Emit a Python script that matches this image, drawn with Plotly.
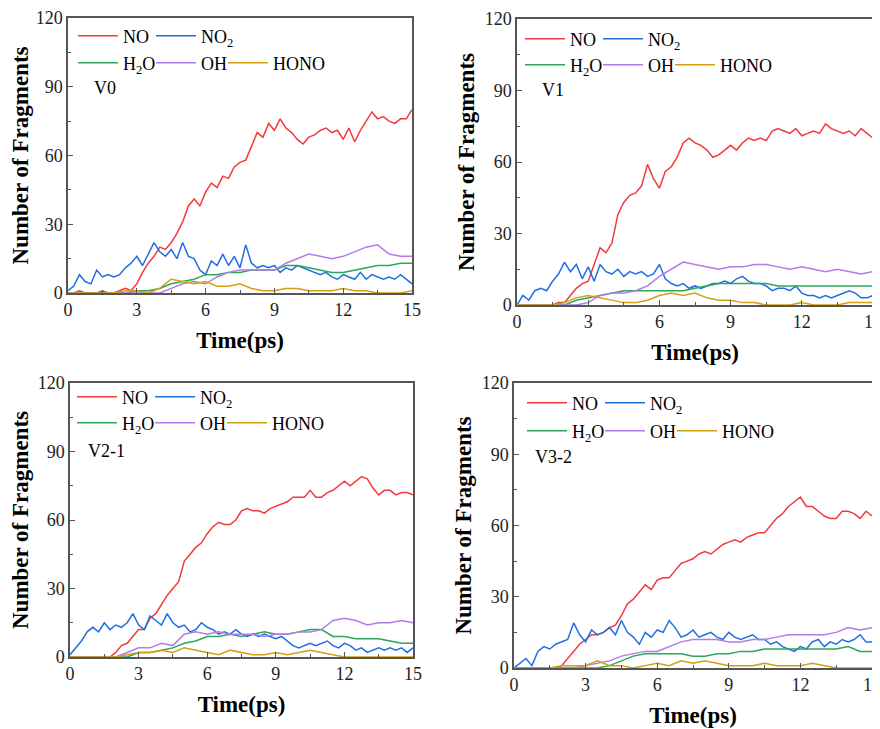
import numpy as np
import plotly.graph_objects as go

# ---------------- data ----------------
# NO and NO2: sampled every 0.25 ps (61 values); H2O, OH, HONO: every 0.5 ps (31 values)
V0_NO = [0,0,1,0,0,0,1,0,0,1,2,1,
         4,9,13,16,20,19,22,26,31,38,41,38,
         44,48,46,51,50,55,57,58,64,70,68,74,
         71,76,72,70,67,65,68,69,71,72,70,71,
         67,72,66,71,75,79,76,77,75,74,76,76,
         80]
V0_NO2 = [1,3,8,5,4,10,7,8,7,8,11,13,
          16,12,17,22,18,16,19,15,22,16,15,10,
          8,14,12,17,12,16,11,21,13,11,12,11,
          12,9,11,10,12,11,10,9,8,9,7,6,
          8,7,6,9,6,8,7,6,7,6,8,6,
          4]
V0_H2O = [0,0,0,0,0,0,1,1,2,4,5,6,8,8,9,9,10,10,10,12,12,11,10,9,9,10,11,12,12,13,13]
V0_OH = [0,0,0,0,0,0,0,0,0,2,4,5,4,7,9,10,10,10,10,13,15,17,16,15,16,18,20,21,17,16,16]
V0_HONO = [0,0,0,0,0,1,1,0,2,6,5,4,5,3,3,4,2,1,1,2,2,1,1,1,2,1,1,0,0,0,1]

V1_NO = [0,0,0,0,0,0,0,1,1,4,7,9,
         10,17,24,22,26,38,43,46,47,50,59,53,
         49,56,58,62,68,70,68,67,65,62,63,65,
         67,65,68,70,69,70,69,73,74,73,72,74,
         71,72,73,72,76,74,73,72,73,71,74,72,
         70]
V1_NO2 = [0,4,2,6,7,6,10,13,18,14,17,11,
          16,10,17,14,13,15,12,14,13,14,12,13,
          17,11,9,8,9,7,8,7,8,9,9,10,
          9,11,12,10,9,9,8,6,7,7,6,8,
          5,4,4,3,4,3,4,5,6,5,3,3,
          4]
V1_H2O = [0,0,0,0,0,2,3,4,5,6,6,6,6,6,6,7,8,9,9,9,9,9,8,8,8,8,8,8,8,8,8]
V1_OH = [0,0,0,0,0,0,1,4,5,5,6,8,12,15,18,17,16,15,16,16,17,17,16,15,16,15,14,15,14,13,14]
V1_HONO = [0,0,0,0,1,3,4,3,2,1,1,2,4,5,4,5,3,2,2,1,1,0,0,0,1,0,0,0,1,1,1]

V21_NO = [0,0,0,0,0,0,0,0,2,5,6,9,
          12,12,17,19,23,27,30,33,42,45,48,50,
          54,57,59,58,58,60,64,65,64,64,63,65,
          66,67,68,70,70,70,73,70,70,72,73,75,
          77,75,77,79,78,74,71,73,73,71,72,72,
          71]
V21_NO2 = [1,4,7,11,13,11,15,12,14,13,15,19,
           14,12,18,16,14,19,15,13,14,11,12,15,
           13,12,10,11,10,12,10,9,10,9,10,9,
           8,9,7,5,4,5,6,5,6,7,5,4,
           6,5,3,4,2,3,4,3,4,3,4,2,
           4]
V21_H2O = [0,0,0,0,0,0,2,2,3,4,6,7,9,9,10,9,10,11,10,10,11,12,12,9,9,8,8,8,7,6,6]
V21_OH = [0,0,0,0,0,2,4,4,6,5,10,11,10,11,10,10,10,9,10,10,11,11,12,16,17,16,14,15,15,16,15]
V21_HONO = [0,0,0,0,0,1,2,2,3,2,4,3,2,1,3,2,1,1,2,1,2,3,2,1,0,0,0,0,0,0,0]

V32_NO = [0,0,0,0,0,0,0,0,1,4,7,10,
          12,14,14,15,17,18,22,27,29,32,35,33,
          37,38,38,41,44,45,46,48,49,48,50,52,
          53,54,53,55,56,57,57,60,63,65,68,70,
          72,68,68,66,64,63,63,66,66,65,63,66,
          64]
V32_NO2 = [0,2,4,1,7,9,8,10,11,12,19,14,
           11,16,14,15,17,14,20,15,13,10,15,13,
           16,15,20,17,13,14,16,13,14,15,13,12,
           15,13,12,13,14,12,12,10,11,9,8,7,
           9,8,11,12,9,11,10,12,11,12,14,11,
           11]
V32_H2O = [0,0,0,0,0,0,0,0,1,3,5,6,6,6,6,5,5,6,6,7,7,8,8,8,8,8,8,8,9,7,7]
V32_OH = [0,0,0,0,0,0,1,2,3,5,6,7,7,9,11,12,12,12,11,11,12,12,13,14,14,14,14,15,17,16,17]
V32_HONO = [0,0,0,0,1,1,1,3,1,1,0,1,2,1,3,2,3,2,1,1,1,2,1,1,1,2,1,0,0,0,0]

PANEL_LABELS = ["V0", "V1", "V2-1", "V3-2"]
SERIES_NAMES = ["NO", "NO<sub>2</sub>", "H<sub>2</sub>O", "OH", "HONO"]
X_TICKS = [0, 3, 6, 9, 12, 15]
Y_TICKS = [0, 30, 60, 90, 120]
T_MAX = 15

PANEL_DATA = [
    [V0_NO, V0_NO2, V0_H2O, V0_OH, V0_HONO],
    [V1_NO, V1_NO2, V1_H2O, V1_OH, V1_HONO],
    [V21_NO, V21_NO2, V21_H2O, V21_OH, V21_HONO],
    [V32_NO, V32_NO2, V32_H2O, V32_OH, V32_HONO],
]

# ---------------- styling ----------------
COLORS = ["#F3393B", "#1F6FE3", "#2CA65C", "#B07CE6", "#D2A012"]
PAGE_OFFSET = 8                 # default body margin of the html page
W, H = 880 - PAGE_OFFSET, 729 - PAGE_OFFSET
SERIF = "Liberation Serif, Times New Roman, serif"
AX_COLOR = "#555555"

def fx(p):
    return (p - PAGE_OFFSET) / W

def fy(p):
    return 1 - (p - PAGE_OFFSET) / H

# plot boxes in screen pixels: left, right, top, bottom
BOXES = [(68, 412, 18, 293), (517, 873, 19, 305), (70, 413, 383, 657), (514, 872, 383, 668)]
# legend anchors per panel: (line start x, row1 y, row2 y)
LEG = [(79, 36, 63), (526, 39, 65), (78, 397, 423), (528, 403, 431)]
# per-series legend entry: (x offset from line start, row)
LEG_ITEM = [(0, 0), (78, 0), (0, 1), (78, 1), (150, 1)]
# panel label positions (left x, center y)
LBL = [(92, 88), (540, 90), (86, 451), (533, 457)]

fig = go.Figure()
layout = dict(
    width=W, height=H,
    margin=dict(l=0, r=0, t=0, b=0, autoexpand=False),
    paper_bgcolor="white", plot_bgcolor="white",
    font=dict(family=SERIF, size=18, color="black"),
    annotations=[],
)

for i, series in enumerate(PANEL_DATA):
    k = i + 1
    xa = "x" if k == 1 else f"x{k}"
    ya = "y" if k == 1 else f"y{k}"
    lx, r1, r2 = LEG[i]
    for j, vals in enumerate(series):
        t = np.linspace(0, T_MAX, len(vals))
        n = i * 5 + j + 1
        leg_id = "legend" if n == 1 else f"legend{n}"
        fig.add_trace(go.Scatter(
            x=t, y=vals, mode="lines", name=SERIES_NAMES[j],
            line=dict(color=COLORS[j], width=1.5),
            xaxis=xa, yaxis=ya,
            legend=leg_id, showlegend=True,
        ))
        dx, row = LEG_ITEM[j]
        layout[leg_id] = dict(
            orientation="h", xanchor="left", yanchor="middle",
            x=fx(lx + dx - 6), y=fy(r1 if row == 0 else r2),
            bgcolor="rgba(0,0,0,0)", borderwidth=0, itemwidth=40,
            font=dict(family=SERIF, size=18, color="black"),
        )
    l, r, tp, bt = BOXES[i]
    axis_common = dict(
        showline=True, linecolor=AX_COLOR, linewidth=1.5, mirror=True,
        ticks="inside", ticklen=5, tickwidth=1.2, tickcolor=AX_COLOR,
        showgrid=False, zeroline=False, automargin=False,
        ticklabeloverflow="allow",
        tickfont=dict(family=SERIF, size=18, color="#222222"),
    )
    layout["xaxis" if k == 1 else f"xaxis{k}"] = dict(
        axis_common, domain=[fx(l), fx(r)], range=[0, T_MAX],
        tickvals=X_TICKS, anchor=ya,
        minor=dict(ticks="inside", ticklen=3, dtick=1.5, tickcolor=AX_COLOR),
        title=dict(text="Time(ps)", standoff=13,
                   font=dict(family=SERIF, size=23, color="black", weight="bold")),
    )
    layout["yaxis" if k == 1 else f"yaxis{k}"] = dict(
        axis_common, domain=[fy(bt), fy(tp)], range=[0, 120],
        tickvals=Y_TICKS, anchor=xa,
        minor=dict(ticks="inside", ticklen=3, dtick=15, tickcolor=AX_COLOR),
        title=dict(text="Number of Fragments", standoff=4,
                   font=dict(family=SERIF, size=23, color="black", weight="bold")),
    )
    px_, py_ = LBL[i]
    layout["annotations"].append(dict(
        text=PANEL_LABELS[i], x=fx(px_), y=fy(py_), xref="paper", yref="paper",
        xanchor="left", yanchor="middle", showarrow=False,
        font=dict(family=SERIF, size=18, color="black"),
    ))

fig.update_layout(**layout)
fig.write_html("out.html")
